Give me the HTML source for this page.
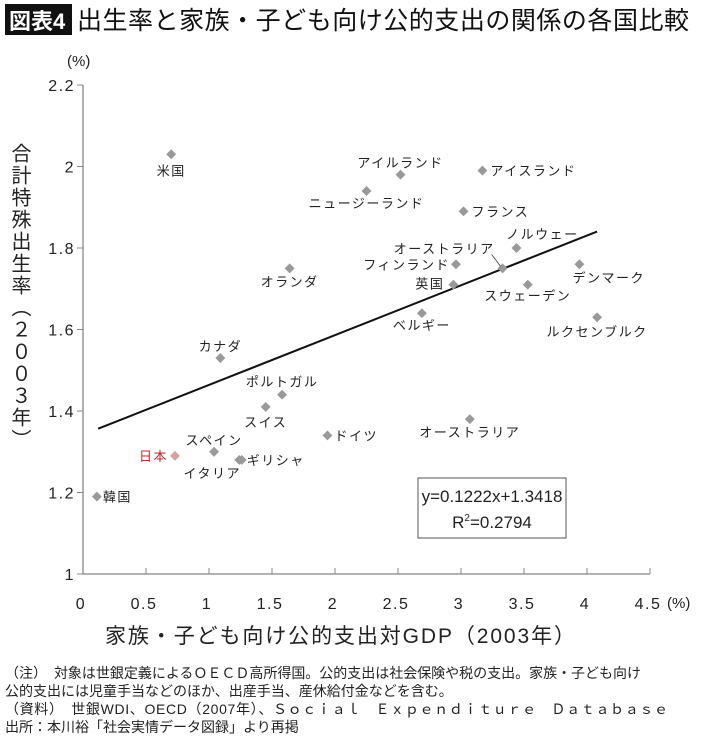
<!DOCTYPE html>
<html><head><meta charset="utf-8">
<style>
body{margin:0;background:#fff;width:710px;height:747px;overflow:hidden;font-family:"Liberation Sans","Noto Sans CJK JP",sans-serif;}
svg{position:absolute;left:0;top:0}
text{font-family:"Liberation Sans","Noto Sans CJK JP",sans-serif;fill:#222}
</style></head>
<body>
<svg id="chart" width="710" height="747">
  <rect x="5" y="4" width="67" height="31" fill="#111"/>
  <text x="9" y="29" font-size="22" font-weight="bold" style="fill:#fff">図表4</text>
  <text x="77" y="29" font-size="25" textLength="612" style="fill:#111">出生率と家族・子ども向け公的支出の関係の各国比較</text>
  <text x="67" y="66" font-size="15">(%)</text>
  <text x="667" y="608" font-size="15">(%)</text>
  <text transform="translate(19,143)" font-size="20" style="writing-mode:vertical-rl;letter-spacing:2px">合計特殊出生率（２００３年）</text>
  <text x="340" y="643" font-size="21" textLength="470" text-anchor="middle">家族・子ども向け公的支出対GDP（2003年）</text>
  <g id="axes"></g>
  <g id="marks"></g>
  <rect x="418" y="478" width="148" height="60" fill="none" stroke="#555" stroke-width="1"/>
  <text x="492" y="502" font-size="17" text-anchor="middle">y=0.1222x+1.3418</text>
  <text x="492" y="528" font-size="17" text-anchor="middle">R<tspan font-size="10" dy="-7">2</tspan><tspan dy="7">=0.2794</tspan></text>
  <g font-size="14">
    <text x="5" y="678" textLength="636">（注）　対象は世銀定義によるＯＥＣＤ高所得国。公的支出は社会保険や税の支出。家族・子ども向け</text>
    <text x="5" y="696">公的支出には児童手当などのほか、出産手当、産休給付金などを含む。</text>
    <text x="5" y="714" textLength="663">（資料）　世銀WDI、OECD（2007年）、Ｓｏｃｉａｌ　Ｅｘｐｅｎｄｉｔｕｒｅ　Ｄａｔａｂａｓｅ</text>
    <text x="5" y="732">出所：本川裕「社会実情データ図録」より再掲</text>
  </g>
</svg>
<script>
const countries=["米国","アイルランド","アイスランド","ニュージーランド","フランス","ノルウェー","オーストラリア","フィンランド","英国","デンマーク","スウェーデン","ベルギー","ルクセンブルク","オーストラリア","ドイツ","オランダ","カナダ","ポルトガル","スイス","スペイン","日本","イタリア","ギリシャ","韓国"];
const spending=[0.70,2.52,3.17,2.25,3.02,3.44,3.33,2.96,2.94,3.94,3.53,2.69,4.08,3.07,1.94,1.64,1.09,1.58,1.45,1.04,0.73,1.24,1.26,0.11];
const fertility=[2.03,1.98,1.99,1.94,1.89,1.80,1.75,1.76,1.71,1.76,1.71,1.64,1.63,1.38,1.34,1.75,1.53,1.44,1.41,1.30,1.29,1.28,1.28,1.19];
const xTicks=[0,0.5,1,1.5,2,2.5,3,3.5,4,4.5];
const xTickLabels=["0","0.5","1","1.5","2","2.5","3","3.5","4","4.5"];
const yTicks=[1,1.2,1.4,1.6,1.8,2,2.2];
const yTickLabels=["1","1.2","1.4","1.6","1.8","2","2.2"];
const slope=0.1222, intercept=1.3418, trendRange=[0.12,4.08];
// label layout (styling, not data)
const labelLayout=[[0,16,"middle"],[0,-12,"middle"],[8,0,"start"],[0,12,"middle"],[8,0,"start"],[26,-14,"middle"],[-8,-20,"end"],[-6,0,"end"],[-9,-1,"end"],[-7,13,"start"],[0,11,"middle"],[0,12,"middle"],[0,14,"middle"],[0,13,"middle"],[7,0,"start"],[0,13,"middle"],[0,-12,"middle"],[0,-13,"middle"],[0,15,"middle"],[0,-12,"middle"],[-7,0,"end"],[-27,13,"middle"],[5,0,"start"],[6,0,"start"]];
const NS="http://www.w3.org/2000/svg";
const X=v=>83+v*126, Y=v=>574-(v-1)*407.5;
function mk(tag,attrs,parent){const e=document.createElementNS(NS,tag);for(const k in attrs)e.setAttribute(k,attrs[k]);parent.appendChild(e);return e;}
const axes=document.getElementById('axes'), marks=document.getElementById('marks');
let l=mk('line',{x1:X(0),y1:Y(2.2),x2:X(0),y2:Y(1),stroke:'#888','stroke-width':1.3},axes);


l=mk('line',{x1:X(0),y1:Y(1),x2:X(4.5),y2:Y(1),stroke:'#888','stroke-width':1.3},axes);


yTicks.forEach((v,i)=>{
  const t=mk('line',{x1:X(0)-6,y1:Y(v),x2:X(0),y2:Y(v),stroke:'#888'},axes);
  
  
  const tx=mk('text',{x:75,y:Y(v)+6,'font-size':16,'text-anchor':'end','letter-spacing':'1.5'},axes);
  tx.textContent=yTickLabels[i];
  
  
});
xTicks.forEach((v,i)=>{
  if(v>0){const t=mk('line',{x1:X(v),y1:Y(1),x2:X(v),y2:Y(1)-6,stroke:'#888'},axes);
  
  }
  const tx=mk('text',{x:X(v)-2,y:609,'font-size':16,'text-anchor':'middle','letter-spacing':'1.5'},axes);
  tx.textContent=xTickLabels[i];
  
  
});
const tl=mk('line',{x1:X(trendRange[0]),y1:Y(intercept+slope*trendRange[0]),x2:X(trendRange[1]),y2:Y(intercept+slope*trendRange[1]),stroke:'#111','stroke-width':2},marks);


countries.forEach((c,i)=>{
  const px=X(spending[i]), py=Y(fertility[i]);
  const isJ=c==="日本";
  const d=mk('rect',{x:px-3.5,y:py-3.5,width:7,height:7,fill:isJ?'#d9a0a0':'#999',transform:`rotate(45 ${px} ${py})`},marks);
  
  
  const [dx,dy,anc]=labelLayout[i];
  const t=mk('text',{x:px+dx,y:py+dy+5,'font-size':13,'text-anchor':anc,'letter-spacing':'1.5'},marks);
  if(isJ)t.style.fill='#c0282d';
  t.textContent=c;
  
  
  if(i===6){const ld=mk('line',{x1:px-11,y1:py-14,x2:px-2,y2:py-2,stroke:'#444','stroke-width':0.8},marks);
    
    }
});
</script>
</body></html>
